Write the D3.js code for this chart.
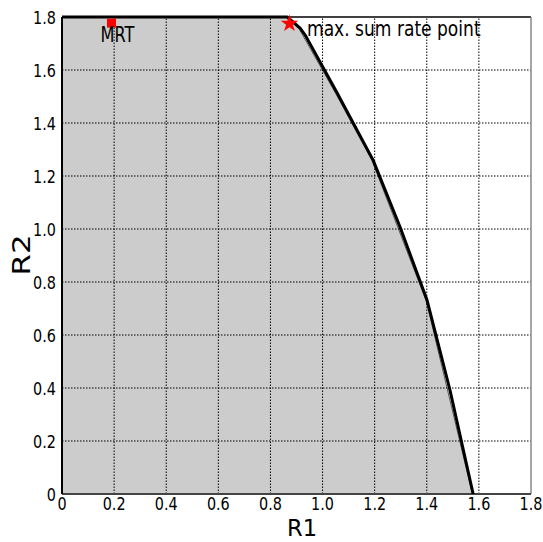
<!DOCTYPE html>
<html>
<head>
<meta charset="utf-8">
<script src="https://cdn.jsdelivr.net/npm/d3@7"></script>
<style>
  html, body { margin: 0; padding: 0; background: #fff; }
  svg text { font-family: 'DejaVu Sans', sans-serif; fill: #000; }
</style>
</head>
<body>
<svg width="543" height="542"></svg>
<script>
// achievable rate region (gray area)
const regionR1 = [0, 0.864, 0.912, 1.050, 1.190, 1.398, 1.575, 0];
const regionR2 = [1.8, 1.8, 1.752, 1.512, 1.258, 0.728, 0, 0];

// outer boundary (thick black)
const boundaryR1 = [0, 0.864, 0.914, 0.933, 1.056, 1.194, 1.297, 1.401, 1.489, 1.578];
const boundaryR2 = [1.8, 1.8, 1.758, 1.732, 1.513, 1.26, 1.008, 0.732, 0.392, 0];

const mrtPoint = [0.19, 1.777];
const maxSumPoint = [0.873, 1.775];

const xTicks = [0, 0.2, 0.4, 0.6, 0.8, 1.0, 1.2, 1.4, 1.6, 1.8];
const yTicks = [0, 0.2, 0.4, 0.6, 0.8, 1.0, 1.2, 1.4, 1.6, 1.8];

const svg = d3.select('svg');

const x = d3.scaleLinear().domain([0, 1.8]).range([62, 531]);
const y = d3.scaleLinear().domain([0, 1.8]).range([494, 17]);
const fmt = v => (v === 0 ? '0' : v.toFixed(1));

// text is a bit narrow and tall in the original
const stretch = 'scale(0.9,1.13)';

const line = d3.line().x(d => x(d[0])).y(d => y(d[1]));

// gray region
svg.append('path')
  .datum(regionR1.map((v, i) => [v, regionR2[i]]))
  .attr('d', d => line(d) + 'Z')
  .attr('fill', '#cccccc')
  .attr('stroke', '#555')
  .attr('stroke-width', 1);

// grid
const grid = svg.append('g').attr('stroke', '#000').attr('stroke-width', 1)
  .attr('stroke-dasharray', '1.5,1.5');
grid.selectAll('.gx')
  .data(xTicks.slice(1, -1))
  .enter().append('line')
  .attr('x1', d => x(d)).attr('x2', d => x(d))
  .attr('y1', y(0)).attr('y2', y(1.8));
grid.selectAll('.gy')
  .data(yTicks.slice(1, -1))
  .enter().append('line')
  .attr('y1', d => y(d)).attr('y2', d => y(d))
  .attr('x1', x(0)).attr('x2', x(1.8));

// frame
svg.append('line').attr('x1', x(0)).attr('x2', x(1.8)).attr('y1', y(1.8)).attr('y2', y(1.8))
  .attr('stroke', '#000').attr('stroke-width', 1.5);
svg.append('line').attr('x1', x(1.8)).attr('x2', x(1.8)).attr('y1', y(1.8)).attr('y2', y(0))
  .attr('stroke', '#888').attr('stroke-width', 1.5);
svg.append('line').attr('x1', x(0)).attr('x2', x(1.8)).attr('y1', y(0)).attr('y2', y(0))
  .attr('stroke', '#444').attr('stroke-width', 2);
svg.append('line').attr('x1', x(0)).attr('x2', x(0)).attr('y1', y(1.8)).attr('y2', y(0))
  .attr('stroke', '#000').attr('stroke-width', 2);

// boundary curve
svg.append('path')
  .datum(boundaryR1.map((v, i) => [v, boundaryR2[i]]))
  .attr('d', line)
  .attr('fill', 'none')
  .attr('stroke', '#000')
  .attr('stroke-width', 3)
  .attr('stroke-linejoin', 'round');

// markers
svg.append('path')
  .attr('d', d3.symbol(d3.symbolSquare, 81)())
  .attr('transform', `translate(${x(mrtPoint[0])},${y(mrtPoint[1])})`)
  .attr('fill', '#ff0000');
svg.append('path')
  .attr('d', d3.symbol(d3.symbolStar, 95)())
  .attr('transform', `translate(${x(maxSumPoint[0])},${y(maxSumPoint[1])})`)
  .attr('fill', '#ff0000');

svg.append('text')
  .attr('transform', `translate(${x(mrtPoint[0]) + 6},42) ${stretch}`)
  .attr('text-anchor', 'middle')
  .style('font-size', '18px')
  .text('MRT');
svg.append('text')
  .attr('transform', `translate(307,36) ${stretch}`)
  .style('font-size', '19px')
  .text('max. sum rate point');

// tick labels
svg.selectAll('.xl')
  .data(xTicks)
  .enter().append('text')
  .attr('transform', d => `translate(${x(d)},509.5) ${stretch}`)
  .attr('text-anchor', 'middle')
  .style('font-size', '16px')
  .text(fmt);
svg.selectAll('.yl')
  .data(yTicks)
  .enter().append('text')
  .attr('transform', d => `translate(56,${y(d) + 6.5}) ${stretch}`)
  .attr('text-anchor', 'end')
  .style('font-size', '16px')
  .text(fmt);

// axis titles
svg.append('text')
  .attr('transform', 'translate(302,536) scale(0.96,1)')
  .attr('text-anchor', 'middle')
  .style('font-size', '23.5px')
  .text('R1');
svg.append('text')
  .attr('transform', 'translate(30,255) rotate(-90) scale(1.1,0.9)')
  .attr('text-anchor', 'middle')
  .style('font-size', '28px')
  .text('R2');
</script>
</body>
</html>
